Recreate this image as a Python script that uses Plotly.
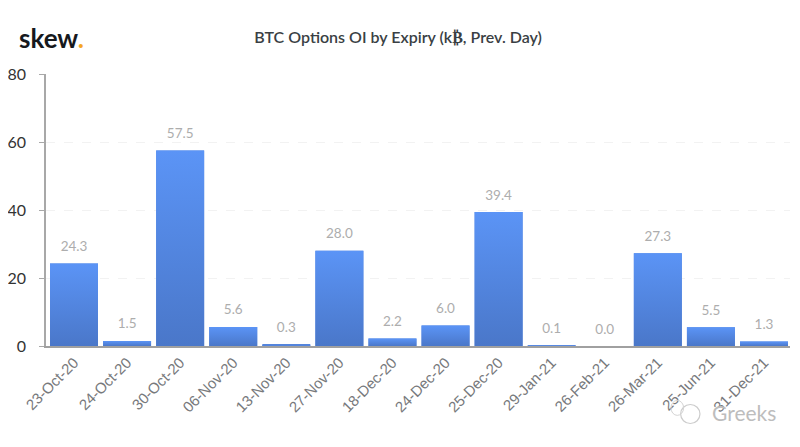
import plotly.graph_objects as go

expiries = ['23-Oct-20', '24-Oct-20', '30-Oct-20', '06-Nov-20', '13-Nov-20', '27-Nov-20', '18-Dec-20',
            '24-Dec-20', '25-Dec-20', '29-Jan-21', '26-Feb-21', '26-Mar-21', '25-Jun-21', '31-Dec-21']
oi = [24.3, 1.5, 57.5, 5.6, 0.3, 28.0, 2.2, 6.0, 39.4, 0.1, 0.0, 27.3, 5.5, 1.3]
y_ticks = [0, 20, 40, 60, 80]

half_width = 0.452
positions = list(range(len(expiries)))

fig = go.Figure()

fig.add_bar(x=positions, y=oi, width=half_width * 2, marker_color='#5585dc', marker_line_width=0,
            hoverinfo='skip')

# plotly bars have no gradient fill, so each bar gets a filled scatter on top
for pos, val in zip(positions, oi):
    if val == 0:
        continue
    fig.add_scatter(x=[pos - half_width, pos - half_width, pos + half_width, pos + half_width, pos - half_width],
                    y=[0, val, val, 0, 0], mode='lines', fill='toself', line_width=0,
                    fillgradient=dict(type='vertical', colorscale=[[0, '#4a77c9'], [1, '#5b94f6']]),
                    hoverinfo='skip')

# value labels, the invisible marker keeps them clear of the bar top
fig.add_scatter(x=positions, y=oi, mode='markers+text', text=['%.1f' % v for v in oi], textposition='top center',
                marker=dict(size=13, color='rgba(0,0,0,0)'), cliponaxis=False,
                textfont=dict(family='Lato', size=13.5, color='#adadad'), hoverinfo='skip')

# the page adds an 8px body margin around the figure
fig.update_layout(
    width=792, height=439, showlegend=False, plot_bgcolor='white', paper_bgcolor='white',
    margin=dict(l=38, r=10, t=66, b=101), bargap=0.1,
    title=dict(text='BTC Options OI by Expiry (k₿, Prev. Day)', x=0.4925, xanchor='center', xref='container',
               y=0.932, yanchor='middle', font=dict(family='Lato', size=16, color='#3a3f44', weight=600)),
)
fig.update_xaxes(range=[-0.5275, 13.49], tickmode='array', tickvals=positions, ticktext=expiries, tickangle=-45,
                 showgrid=False, zeroline=False, showline=True, linecolor='#a0a0a0', linewidth=2, ticks='',
                 automargin=False, tickfont=dict(family='Liberation Sans', size=15, color='#77797c'))
fig.update_yaxes(range=[0, 80], tickmode='array', tickvals=y_ticks, zeroline=False, showline=True,
                 linecolor='#a8a8a8', linewidth=1.5, ticks='outside', ticklen=5, tickcolor='#a8a8a8',
                 griddash='dash', gridcolor='#f2f2f2', gridwidth=1, ticklabelstandoff=10, automargin=False,
                 tickfont=dict(family='Lato', size=16, color='#333333'))

fig.add_annotation(text="<b>skew<span style='color:#f5a623'>.</span></b>", xref='paper', yref='paper',
                   x=-0.039, y=1.132, xanchor='left', yanchor='middle', showarrow=False,
                   font=dict(family='Lato', size=26, color='#16191d'))

# watermark
fig.add_annotation(text='Greeks', xref='paper', yref='paper', x=0.938, y=-0.245, xanchor='center',
                   yanchor='middle', showarrow=False, font=dict(family='Lato', size=21, color='#bdbdbd'))
fig.add_shape(type='circle', xref='paper', yref='paper', x0=0.853, x1=0.879, y0=-0.285, y1=-0.215,
              line=dict(color='#cccccc', width=1.2))
fig.add_shape(type='circle', xref='paper', yref='paper', x0=0.84, x1=0.857, y0=-0.255, y1=-0.2,
              line=dict(color='#d4d4d4', width=1))

fig.write_html("out.html")
